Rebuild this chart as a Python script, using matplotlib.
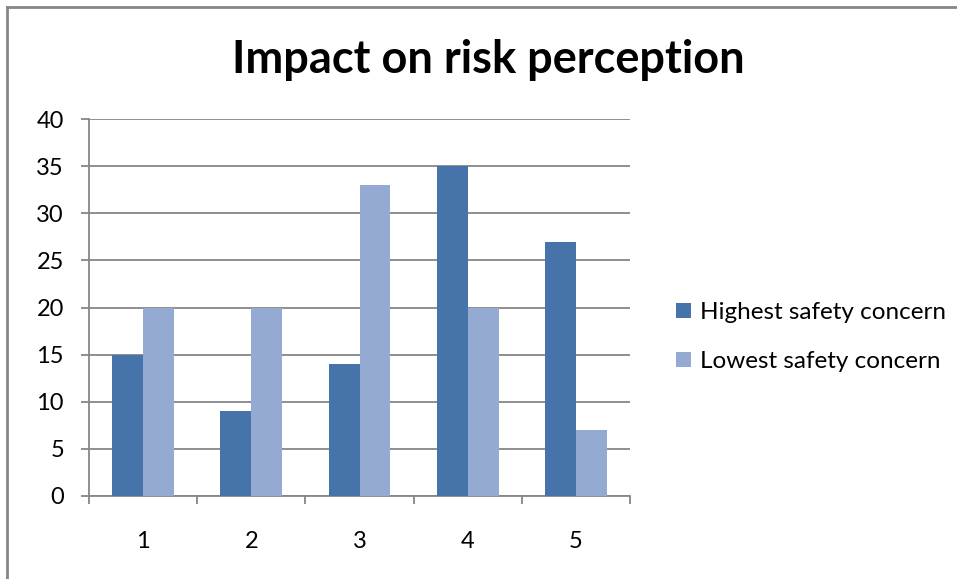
import numpy as np
import matplotlib.pyplot as plt
from matplotlib.lines import Line2D

categories = ["1", "2", "3", "4", "5"]
highest = [15, 9, 14, 35, 27]
lowest = [20, 20, 33, 20, 7]
series_names = ["Highest safety concern", "Lowest safety concern"]

dark = "#4674AA"
light = "#95AAD2"
grey = "#868686"

plt.rcParams["font.family"] = ["Lato", "DejaVu Sans"]

fig = plt.figure(figsize=(9.57, 5.79), dpi=100)
ax = fig.add_axes([89 / 957, 83 / 579, 541 / 957, 377 / 579])

x = np.arange(len(categories))
w = 1 / 3.5
ax.bar(x - w / 2, highest, width=w, color=dark, label=series_names[0], zorder=3)
ax.bar(x + w / 2, lowest, width=w, color=light, label=series_names[1], zorder=3)

ax.set_xlim(-0.5, len(categories) - 0.5)
ax.set_ylim(0, 40)
ax.set_yticks(range(0, 41, 5))
ax.yaxis.grid(True, color=grey, linewidth=1.3, zorder=0)

ax.set_xticks(x)
ax.set_xticklabels(categories)
ax.set_xticks(np.arange(-0.5, len(categories)), minor=True)
ax.tick_params(axis="x", which="major", length=0, pad=25, labelsize=17)
ax.tick_params(axis="x", which="minor", length=6, width=1.3, color=grey, direction="out")
ax.tick_params(axis="y", length=6, width=1.3, color=grey, direction="out", pad=12, labelsize=17)

for side in ["top", "right"]:
    ax.spines[side].set_visible(False)
for side in ["left", "bottom"]:
    ax.spines[side].set_color(grey)
    ax.spines[side].set_linewidth(1.3)

fig.text(488 / 957, 1 - 60 / 579, "Impact on risk perception", ha="center", va="center",
         fontsize=32.5, fontweight="bold")

fig.legend(loc="center left", bbox_to_anchor=(664 / 957, 1 - 337 / 579), frameon=False,
           fontsize=17.5, handlelength=0.62, handleheight=0.62, handletextpad=0.35,
           labelspacing=1.15, borderpad=0)

# chart outline (top and left edges)
fig.add_artist(Line2D([7 / 957, 7 / 957], [0, 1 - 7 / 579], transform=fig.transFigure,
                      color=grey, linewidth=2))
fig.add_artist(Line2D([7 / 957, 1], [1 - 7 / 579, 1 - 7 / 579], transform=fig.transFigure,
                      color=grey, linewidth=2))

fig.savefig("out.png", dpi=100)
